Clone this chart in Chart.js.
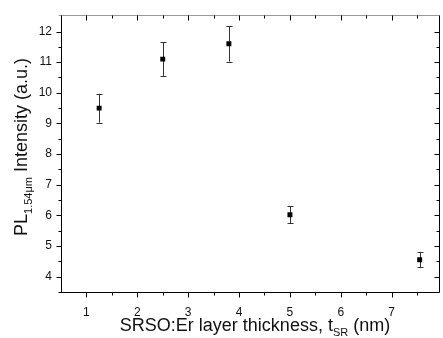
<!DOCTYPE html>
<html>
<head>
<meta charset="utf-8">
<script src="https://cdn.jsdelivr.net/npm/chart.js@4/dist/chart.umd.min.js"></script>
<style>
  html, body { margin: 0; padding: 0; background: #fff; overflow: hidden; }
  #wrap { width: 443px; height: 338px; }
</style>
</head>
<body>
<div id="wrap"><canvas id="grafico"></canvas></div>
<script>
// espesor de capa (nm) y PL (u.a.)
const espesores = [1.25, 2.5, 3.8, 5.0, 7.55];
const intensidad = [9.5, 11.1, 11.6, 6.02, 4.55];
const errores = [0.47, 0.55, 0.58, 0.28, 0.24];

const ticksX = [1, 2, 3, 4, 5, 6, 7];
const ticksY = [4, 5, 6, 7, 8, 9, 10, 11, 12];

const fuente = "'Liberation Sans', Arial, sans-serif";

// barras de error, marco y marcas menores
const marcoPlugin = {
  id: "marco",
  beforeDatasetsDraw(chart) {
    const ctx = chart.ctx;
    const xs = chart.scales.x, ys = chart.scales.y;
    ctx.save();
    ctx.strokeStyle = "#333";
    ctx.lineWidth = 1;
    espesores.forEach((e, i) => {
      const px = Math.round(xs.getPixelForValue(e)) + 0.5;
      const top = ys.getPixelForValue(intensidad[i] + errores[i]);
      const bot = ys.getPixelForValue(intensidad[i] - errores[i]);
      ctx.beginPath();
      ctx.moveTo(px, top); ctx.lineTo(px, bot);
      ctx.moveTo(px - 3, Math.round(top) + 0.5); ctx.lineTo(px + 3, Math.round(top) + 0.5);
      ctx.moveTo(px - 3, Math.round(bot) + 0.5); ctx.lineTo(px + 3, Math.round(bot) + 0.5);
      ctx.stroke();
    });
    ctx.restore();
  },
  afterDraw(chart) {
    const ctx = chart.ctx;
    const a = chart.chartArea;
    const xs = chart.scales.x, ys = chart.scales.y;
    const L = Math.round(a.left) + 0.5, R = Math.round(a.right) + 0.5;
    const T = Math.round(a.top) - 0.5, B = Math.round(a.bottom) + 0.5;
    ctx.save();
    ctx.lineWidth = 1;

    // marco
    ctx.strokeStyle = "#999";
    ctx.beginPath();
    ctx.moveTo(L - 3, T); ctx.lineTo(R, T);
    ctx.stroke();
    ctx.strokeStyle = "#000";
    ctx.beginPath();
    ctx.moveTo(L, T); ctx.lineTo(L, B);
    ctx.moveTo(L - 3, B); ctx.lineTo(R, B);
    ctx.moveTo(R, T); ctx.lineTo(R, B);
    ctx.stroke();

    // marcas X (abajo hacia fuera, arriba hacia dentro)
    ctx.beginPath();
    for (let v = 1; v <= 7.5; v += 0.5) {
      const px = Math.round(xs.getPixelForValue(v)) + 0.5;
      const largo = Number.isInteger(v) ? 5 : 3;
      ctx.moveTo(px, B); ctx.lineTo(px, B + largo);
      ctx.moveTo(px, T); ctx.lineTo(px, T + largo);
    }
    // marcas Y (izquierda hacia fuera, derecha hacia dentro)
    for (let v = 4; v <= 12; v += 0.5) {
      const py = Math.round(ys.getPixelForValue(v)) + 0.5;
      const largo = Number.isInteger(v) ? 5 : 3;
      ctx.moveTo(L, py); ctx.lineTo(L - largo, py);
      ctx.moveTo(R, py); ctx.lineTo(R - largo, py);
    }
    ctx.stroke();

    // titulo eje X con subindice
    ctx.fillStyle = "#111";
    ctx.textBaseline = "alphabetic";
    const base = "SRSO:Er layer thickness, t";
    const sub = "SR";
    const fin = " (nm)";
    const fMain = "18px " + fuente, fSub = "11px " + fuente;
    ctx.font = fMain;
    const w1 = ctx.measureText(base).width, w3 = ctx.measureText(fin).width;
    ctx.font = fSub;
    const w2 = ctx.measureText(sub).width;
    const cx = 255;
    let x0 = cx - (w1 + w2 + w3) / 2;
    const yb = 331;
    ctx.textAlign = "left";
    ctx.font = fMain; ctx.fillText(base, x0, yb);
    ctx.font = fSub; ctx.fillText(sub, x0 + w1, yb + 5);
    ctx.font = fMain; ctx.fillText(fin, x0 + w1 + w2, yb);

    // titulo eje Y con subindice
    ctx.save();
    ctx.translate(27, 147);
    ctx.rotate(-Math.PI / 2);
    const yA = "PL", ySub = "1.54μm", yB = " Intensity (a.u.)";
    ctx.font = fMain;
    const v1 = ctx.measureText(yA).width, v3 = ctx.measureText(yB).width;
    ctx.font = fSub;
    const v2 = ctx.measureText(ySub).width;
    let y0 = -(v1 + v2 + v3) / 2;
    ctx.font = fMain; ctx.fillText(yA, y0, 0);
    ctx.font = fSub; ctx.fillText(ySub, y0 + v1, 5);
    ctx.font = fMain; ctx.fillText(yB, y0 + v1 + v2, 0);
    ctx.restore();

    ctx.restore();
  }
};

new Chart(document.getElementById("grafico"), {
  type: "scatter",
  data: {
    datasets: [{
      label: "PL",
      data: espesores.map((e, i) => ({ x: e, y: intensidad[i] })),
      backgroundColor: "#000",
      borderColor: "#000",
      borderWidth: 0,
      pointStyle: "rect",
      pointRadius: 3.5,
    }],
  },
  options: {
    responsive: true,
    maintainAspectRatio: false,
    animation: false,
    events: [],
    layout: { padding: { top: 10, right: 0, left: 0, bottom: 0 } },
    plugins: {
      legend: { display: false },
      tooltip: { enabled: false },
    },
    scales: {
      x: {
        type: "linear",
        min: 0.5,
        max: 7.93,
        grid: { display: false, drawTicks: false },
        border: { display: false },
        afterBuildTicks: (s) => { s.ticks = ticksX.map((v) => ({ value: v })); },
        afterFit: (s) => { s.height = 46; },
        ticks: {
          padding: 13,
          maxRotation: 0,
          color: "#111",
          font: { family: fuente, size: 12 },
        },
      },
      y: {
        min: 3.5,
        max: 12.5,
        grid: { display: false, drawTicks: false },
        border: { display: false },
        afterBuildTicks: (s) => { s.ticks = ticksY.map((v) => ({ value: v })); },
        afterFit: (s) => { s.width = 61; },
        ticks: {
          padding: 9,
          color: "#111",
          font: { family: fuente, size: 12 },
        },
      },
    },
  },
  plugins: [marcoPlugin],
});
</script>
</body>
</html>
